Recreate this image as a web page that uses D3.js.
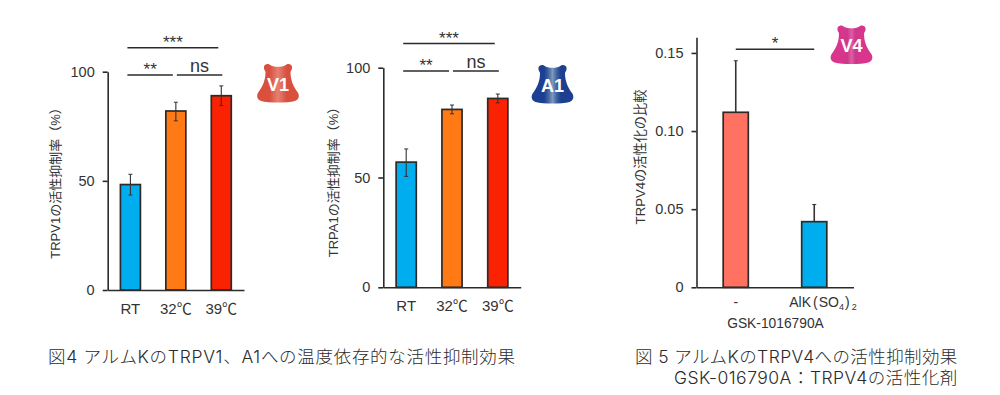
<!DOCTYPE html>
<html lang="ja">
<head>
<meta charset="utf-8">
<script src="https://cdn.jsdelivr.net/npm/d3@7"></script>
<style>
  html, body { margin: 0; padding: 0; background: #fff; }
  svg { display: block; }
  text { fill: #333; font-family: "Liberation Sans", "Noto Sans CJK JP", sans-serif; }
  .caption { font-family: Inter, "Noto Sans CJK JP", sans-serif; font-weight: 300; fill: #2b2b2b; }
</style>
</head>
<body>
<svg id="chart" width="1000" height="395"></svg>
<script>
const tempCategories = ['RT', '32℃', '39℃'];
const tempColors = ['#00aeef', '#ff7a14', '#fa2200'];

const v1Values = [48.3, 82, 89];
const v1ErrLow = [43.5, 77.5, 84.5];
const v1ErrHigh = [53, 86, 93.5];

const a1Values = [57, 81, 86];
const a1ErrLow = [50.5, 79, 84];
const a1ErrHigh = [63, 83, 88];

const v4Categories = ['-', 'AlK'];
const v4Colors = ['#ff7262', '#00aeef'];
const v4Values = [0.112, 0.042];
const v4ErrHigh = [0.145, 0.053];

const tempTicks = [0, 50, 100];
const v4Ticks = [0, 0.05, 0.1, 0.15];

const tempBrackets = [
  { from: 'RT', to: '39℃', level: 111, label: '***' },
  { from: 'RT', to: '32℃', level: 98.5, label: '**' },
  { from: '32℃', to: '39℃', level: 98.5, label: 'ns' },
];
const v4Brackets = [{ from: '-', to: 'AlK', level: 0.1524, label: '*' }];

const svg = d3.select('#chart');

// one bar panel: axes, bars, error bars and significance brackets
function drawBars(opts) {
  const x = d3
    .scaleBand()
    .domain(opts.categories)
    .range(opts.xRange)
    .paddingInner(opts.padding)
    .paddingOuter(opts.padding / 2);
  const y = d3.scaleLinear().domain(opts.yDomain).range(opts.yRange);
  const rows = opts.categories.map((c, i) => ({
    cat: c,
    value: opts.values[i],
    low: opts.errLow ? opts.errLow[i] : opts.values[i],
    high: opts.errHigh[i],
    color: opts.colors[i],
  }));

  const g = svg.append('g');

  g.selectAll('rect')
    .data(rows)
    .join('rect')
    .attr('x', (d) => x(d.cat))
    .attr('y', (d) => y(d.value))
    .attr('width', x.bandwidth())
    .attr('height', (d) => y(0) - y(d.value))
    .attr('fill', (d) => d.color)
    .attr('stroke', '#2b2b2b')
    .attr('stroke-width', 1.7);

  g.selectAll('line.err')
    .data(rows)
    .join('line')
    .attr('class', 'err')
    .attr('x1', (d) => x(d.cat) + x.bandwidth() / 2)
    .attr('x2', (d) => x(d.cat) + x.bandwidth() / 2)
    .attr('y1', (d) => y(d.low))
    .attr('y2', (d) => y(d.high))
    .attr('stroke', '#333')
    .attr('stroke-width', opts.errWidth);

  // caps
  for (const key of opts.errLow ? ['low', 'high'] : ['high']) {
    g.selectAll(`line.cap-${key}`)
      .data(rows)
      .join('line')
      .attr('class', `cap-${key}`)
      .attr('x1', (d) => x(d.cat) + x.bandwidth() / 2 - 2)
      .attr('x2', (d) => x(d.cat) + x.bandwidth() / 2 + 2)
      .attr('y1', (d) => y(d[key]))
      .attr('y2', (d) => y(d[key]))
      .attr('stroke', '#333')
      .attr('stroke-width', 1);
  }

  const yAxis = d3
    .axisLeft(y)
    .tickValues(opts.ticks)
    .tickSizeInner(5)
    .tickSizeOuter(0)
    .tickPadding(8)
    .tickFormat(opts.tickFormat);
  const yG = g.append('g').attr('transform', `translate(${opts.xRange[0]},0)`).call(yAxis);
  yG.selectAll('line, path').attr('stroke', '#2b2b2b').attr('stroke-width', 1.6);
  yG.selectAll('text').style('font-size', `${opts.tickSize}px`).attr('fill', '#333');

  const xAxis = d3.axisBottom(x).tickSize(0).tickPadding(opts.xPad);
  const xG = g.append('g').attr('transform', `translate(0,${y(0)})`).call(xAxis);
  xG.select('path').attr('stroke', '#2b2b2b').attr('stroke-width', 1.6);
  xG.selectAll('text').style('font-size', `${opts.xTickSize}px`).attr('fill', '#333');
  if (opts.xLabelFix) xG.selectAll('text').each(opts.xLabelFix);

  g.append('text')
    .attr('transform', `translate(${opts.titleX},${opts.titleY}) rotate(-90)`)
    .attr('text-anchor', 'middle')
    .style('font-size', `${opts.titleSize}px`)
    .text(opts.title);

  for (const b of opts.brackets) {
    const shift = b.label === 'ns' ? 1 : opts.bracketShift;
    const x0 = x(b.from) + x.bandwidth() / 2 + shift;
    const x1 = x(b.to) + x.bandwidth() / 2 + shift;
    g.append('line')
      .attr('x1', x0)
      .attr('x2', x1)
      .attr('y1', y(b.level))
      .attr('y2', y(b.level))
      .attr('stroke', '#2b2b2b')
      .attr('stroke-width', 1.5);
    g.append('text')
      .attr('x', (x0 + x1) / 2)
      .attr('y', y(b.level) - (b.label === 'ns' ? 3 : 0))
      .attr('text-anchor', 'middle')
      .style('font-size', b.label === 'ns' ? '18px' : '17px')
      .text(b.label);
  }
}

// the little channel glyph next to each panel
function drawChannel(id, left, top, label, dark, mid, light) {
  const defs = svg.append('defs');
  const grad = defs.append('linearGradient').attr('id', id);
  [[0, dark], [0.3, dark], [0.4, mid], [0.5, light], [0.6, mid], [0.7, dark], [1, dark]].forEach(([o, c]) => {
    grad.append('stop').attr('offset', o).attr('stop-color', c);
  });
  const g = svg.append('g').attr('transform', `translate(${left},${top})`);
  g.append('path')
    .attr('d', 'M7 3 C7.5 0 12 -0.5 14 2 C17 3.8 25 3.8 28 2 C30 -0.5 34.5 0 35 3 C35.5 5.5 34 7 33.5 8.5 C33.5 17 36.5 23 40.5 28.5 C43 32 42 36 38 37.5 C30 39.5 12 39.5 4 37.5 C0 36 -1 32 1.5 28.5 C5.5 23 8.5 17 8.5 8.5 C8 7 6.5 5.5 7 3 Z')
    .attr('fill', `url(#${id})`);
  g.append('text')
    .attr('x', 21)
    .attr('y', 27)
    .attr('text-anchor', 'middle')
    .style('font-size', '18px')
    .style('font-weight', 'bold')
    .style('fill', '#fff')
    .text(label);
}

drawBars({
  categories: tempCategories,
  colors: tempColors,
  values: v1Values,
  errLow: v1ErrLow,
  errHigh: v1ErrHigh,
  xRange: [107.7, 244],
  padding: 0.56,
  yDomain: [0, 100],
  yRange: [290, 71.7],
  ticks: tempTicks,
  tickFormat: d3.format('d'),
  tickSize: 14.5,
  xTickSize: 15,
  xPad: 13,
  errWidth: 1.1,
  title: 'TRPV1の活性抑制率（%）',
  titleX: 60,
  titleY: 180,
  titleSize: 13,
  brackets: tempBrackets,
  bracketShift: -3,
});

drawBars({
  categories: tempCategories,
  colors: tempColors,
  values: a1Values,
  errLow: a1ErrLow,
  errHigh: a1ErrHigh,
  xRange: [383.3, 520.7],
  padding: 0.56,
  yDomain: [0, 100],
  yRange: [287.3, 67.7],
  ticks: tempTicks,
  tickFormat: d3.format('d'),
  tickSize: 14.5,
  xTickSize: 15,
  xPad: 13,
  errWidth: 1.1,
  title: 'TRPA1の活性抑制率（%）',
  titleX: 338,
  titleY: 179,
  titleSize: 13,
  brackets: tempBrackets,
  bracketShift: -3,
});

drawBars({
  categories: v4Categories,
  colors: v4Colors,
  values: v4Values,
  errHigh: v4ErrHigh,
  xRange: [696.5, 853.5],
  padding: 0.68,
  yDomain: [0, 0.16],
  yRange: [287.3, 37.3],
  ticks: v4Ticks,
  tickFormat: (d) => (d === 0 ? '0' : d3.format('.2f')(d)),
  tickSize: 14.5,
  xTickSize: 14,
  xPad: 10,
  errWidth: 1.6,
  title: 'TRPV4の活性化の比較',
  titleX: 645,
  titleY: 157,
  titleSize: 13.2,
  brackets: v4Brackets,
  bracketShift: 0,
  xLabelFix: function (d) {
    if (d !== 'AlK') return;
    // the label sits right of its bar like the original
    const t = d3.select(this).attr('text-anchor', 'start').attr('x', -25).text('AlK');
    t.append('tspan').attr('dx', 2).text('(');
    t.append('tspan').attr('dx', 1).text('SO');
    t.append('tspan').attr('dy', 3).style('font-size', '9px').text('4');
    t.append('tspan').attr('dx', 1).attr('dy', -3).text(')');
    t.append('tspan').attr('dx', 2).attr('dy', 3).style('font-size', '9px').text('2');
  },
});

svg.append('text')
  .attr('x', 775.5)
  .attr('y', 328)
  .attr('text-anchor', 'middle')
  .style('font-size', '13.8px')
  .text('GSK-1016790A');

drawChannel('gradV1', 257, 63.5, 'V1', '#d9503f', '#df6a5a', '#e58070');
drawChannel('gradA1', 531.5, 64.5, 'A1', '#1c3f92', '#3f64a0', '#7f97ba');
drawChannel('gradV4', 830.5, 25, 'V4', '#d9358c', '#c93a88', '#e25aa5');

const captions = [
  { text: '図4 アルムKのTRPV1、A1への温度依存的な活性抑制効果', x: 48, y: 363, spacing: 0.7 },
  { text: '図 5 アルムKのTRPV4への活性抑制効果', x: 635, y: 363, spacing: 0.4 },
  { text: 'GSK-016790A：TRPV4の活性化剤', x: 674, y: 384, spacing: 0.5 },
];
svg.selectAll('text.caption')
  .data(captions)
  .join('text')
  .attr('class', 'caption')
  .attr('x', (d) => d.x)
  .attr('y', (d) => d.y)
  .style('font-size', '17.5px')
  .style('letter-spacing', (d) => `${d.spacing}px`)
  .text((d) => d.text);
</script>
</body>
</html>
